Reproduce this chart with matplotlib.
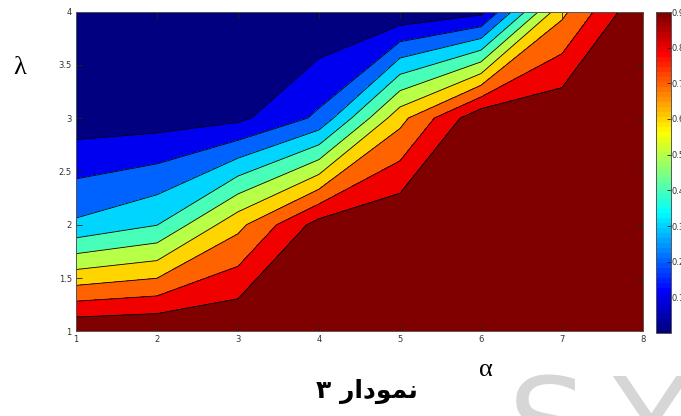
import numpy as np
import matplotlib
matplotlib.use('Agg')
import matplotlib.pyplot as plt
from matplotlib.colors import LinearSegmentedColormap, Normalize
from matplotlib.cm import ScalarMappable

# grid of the surface: columns follow alpha, rows follow lambda
alpha = [1, 2, 3, 4, 5, 6, 7, 8]
lam = [1, 2, 3, 4]
z_lam1 = [0.99, 1.0, 1.0, 1.0, 1.0, 1.0, 1.0, 1.0]
z_lam2 = [0.317, 0.397, 0.672, 0.94, 0.997, 1.0, 1.0, 1.0]
z_lam3 = [0.045, 0.052, 0.076, 0.22, 0.668, 0.98, 0.99, 1.0]
z_lam4 = [0.0, 0.0, 0.0, 0.006, 0.015, 0.07, 0.675, 0.997]

levels = [0.1, 0.2, 0.3, 0.4, 0.5, 0.6, 0.7, 0.8, 0.9]
cbar_ticks = [0.1, 0.2, 0.3, 0.4, 0.5, 0.6, 0.7, 0.8, 0.9]
cbar_labels = ['0.1', '0.2', '0.3', '0.4', '0.5', '0.6', '0.7', '0.8', '0.9']
x_ticks = [1, 2, 3, 4, 5, 6, 7, 8]
y_ticks = [1, 1.5, 2, 2.5, 3, 3.5, 4]
y_labels = ['1', '1.5', '2', '2.5', '3', '3.5', '4']

caption = 'نمودار ۳'
# matplotlib does no arabic shaping, so the caption is written in
# presentation forms, left to right
caption_shown = '\u06f3 \ufead\ufe8d\ufea9\ufeee\ufee4\ufee7'

'''
    matlab style jet, 64 steps
'''
def matlab_jet():
    pts = [(0.0, (0, 0, 0.5)), (0.125, (0, 0, 1)), (0.375, (0, 1, 1)),
           (0.625, (1, 1, 0)), (0.875, (1, 0, 0)), (1.0, (0.5, 0, 0))]
    return LinearSegmentedColormap.from_list('mjet', pts, N=64)


def style_axis(ax, fs):
    ax.tick_params(direction='in', length=4, width=0.6, top=True, right=True,
                   labelsize=fs, labelcolor='#333333', pad=3, color='#222222')
    for s in ax.spines.values():
        s.set_color('#555555')
        s.set_linewidth(0.7)


if __name__ == '__main__':
    cmap = matlab_jet()
    norm = Normalize(0, 0.9)

    Z = np.array([z_lam1, z_lam2, z_lam3, z_lam4])
    bounds = [-1.0] + levels + [2.0]
    band_colors = [cmap(norm(v)) for v in [0.0] + levels]

    fig = plt.figure(figsize=(6.81, 4.16), dpi=100)
    ax = fig.add_axes([76 / 681, 1 - 331.3 / 416, 567 / 681, 319.8 / 416])
    ax.contourf(alpha, lam, Z, levels=bounds, colors=band_colors)
    ax.contour(alpha, lam, Z, levels=levels, colors='k', linewidths=0.6)
    ax.set_xlim(1, 8)
    ax.set_ylim(1, 4)
    ax.set_xticks(x_ticks)
    ax.set_yticks(y_ticks)
    ax.set_yticklabels(y_labels)
    style_axis(ax, 6)

    cax = fig.add_axes([655.7 / 681, 1 - 333 / 416, 15.3 / 681, 321 / 416])
    cb = fig.colorbar(ScalarMappable(norm=norm, cmap=cmap), cax=cax)
    cb.set_ticks(cbar_ticks)
    cb.set_ticklabels(cbar_labels)
    cax.tick_params(direction='in', length=3, width=0.6, labelsize=6,
                    labelcolor='#333333', pad=0.5, color='#222222')
    cb.outline.set_edgecolor('#555555')
    cb.outline.set_linewidth(0.7)

    fig.text(20 / 681, 1 - 68 / 416, 'λ', family='Liberation Serif',
             fontsize=19, ha='center', va='center')
    fig.text(486 / 681, 1 - 370 / 416, 'α', family='Liberation Serif',
             fontsize=19, ha='center', va='center')
    fig.text(367 / 681, 1 - 391 / 416, caption_shown, family=['DejaVu Sans'],
             fontweight='bold', fontsize=18, ha='center', va='center')

    # faint watermark in the lower right corner
    fig.text(508 / 681, 1 - 372 / 416, 'S', family='DejaVu Sans',
             fontsize=90, color='#d6d6d6', ha='left', va='top')
    fig.text(612 / 681, 1 - 372 / 416, 'Y', family='DejaVu Sans',
             fontsize=90, color='#d6d6d6', ha='left', va='top')

    fig.savefig('out.png', dpi=100)
